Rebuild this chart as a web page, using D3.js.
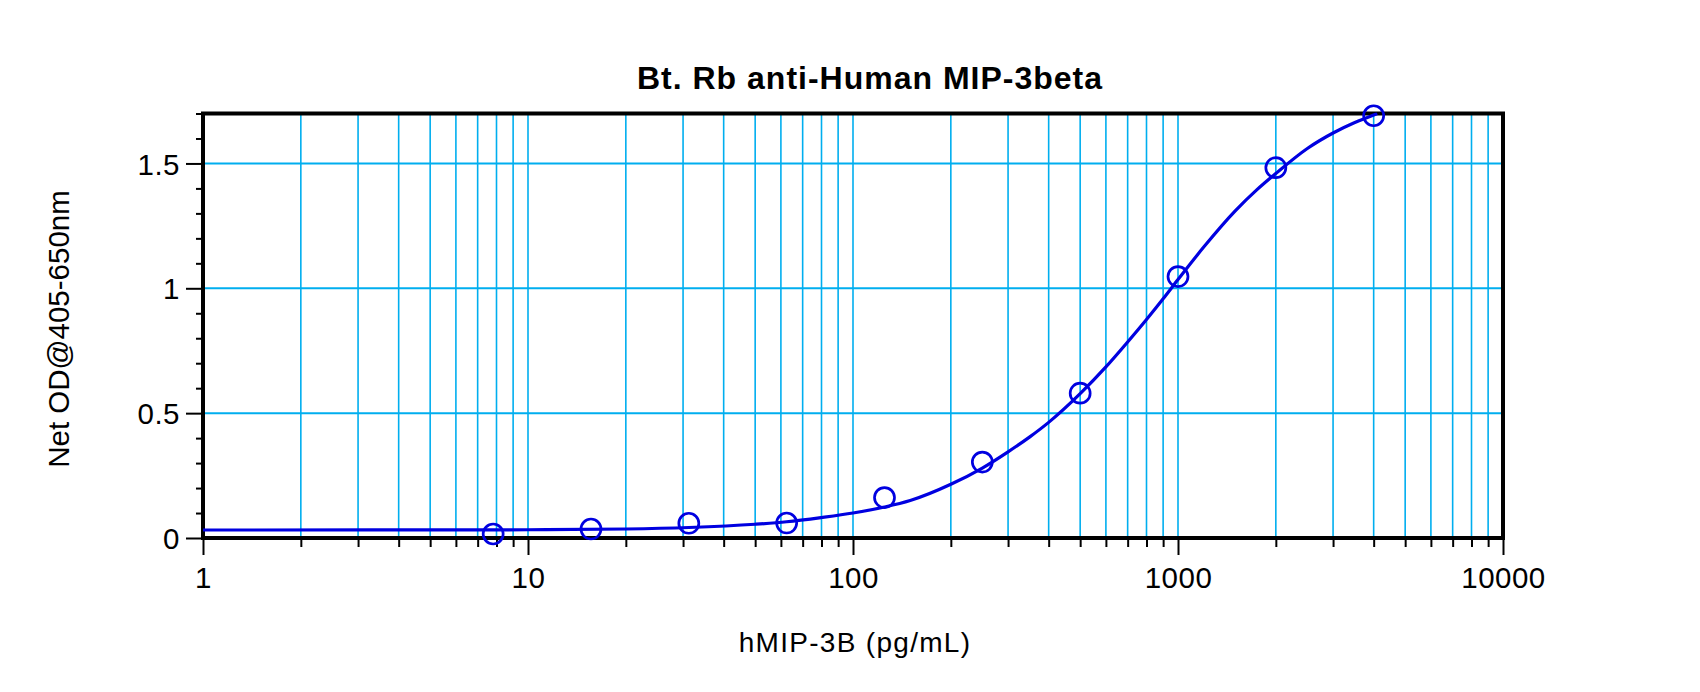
<!DOCTYPE html>
<html><head><meta charset="utf-8">
<script src="https://cdn.jsdelivr.net/npm/d3@7"></script>
<style>
body{margin:0;background:#fff}
svg{display:block}
text{font-family:Arial,"Liberation Sans",sans-serif;fill:#000}
</style>
</head><body>
<svg id="c" width="1700" height="692"></svg>
<script>
// ---- data ----
const title = "Bt. Rb anti-Human MIP-3beta";
const xLabel = "hMIP-3B (pg/mL)";
const yLabel = "Net OD@405-650nm";
const conc = [7.8125, 15.625, 31.25, 62.5, 125, 250, 500, 1000, 2000, 4000];
const od   = [0.016, 0.036, 0.059, 0.060, 0.162, 0.304, 0.580, 1.047, 1.483, 1.691];
// fitted curve
const fitX = [1, 10, 20, 31.25, 50, 62.5, 80, 100, 125, 150, 200, 250, 300, 350, 400, 500, 600, 700, 800, 900, 1000, 1200, 1500, 1750, 2000, 2500, 3000, 3500, 4000, 4100];
const fitY = [0.032, 0.033, 0.036, 0.042, 0.055, 0.065, 0.082, 0.100, 0.124, 0.150, 0.215, 0.280, 0.345, 0.405, 0.463, 0.578, 0.685, 0.785, 0.875, 0.958, 1.035, 1.165, 1.310, 1.395, 1.460, 1.560, 1.622, 1.664, 1.694, 1.700];
const xTicks = [1, 10, 100, 1000, 10000];
const xTickLabels = ["1", "10", "100", "1000", "10000"];
const yTicks = [0, 0.5, 1, 1.5];
const yTickLabels = ["0", "0.5", "1", "1.5"];
const xDomain = [1, 10000];
const yDomain = [0, 1.7];

// ---- layout ----
const L = 203, R = 1503, T = 113.5, B = 538;
const gridColor = "#00aeef";
const blue = "#0000e0";

const svg = d3.select("#c");
const x = d3.scaleLog().domain(xDomain).range([L, R]);
const y = d3.scaleLinear().domain(yDomain).range([B, T]);

const xMinor = x.ticks().filter(v => v > xDomain[0] && v < xDomain[1]);
const yMinor = y.ticks(17);

// gridlines
const g = svg.append("g");
g.selectAll("line.vx").data(xMinor).join("line")
  .attr("x1", d => x(d)).attr("x2", d => x(d))
  .attr("y1", T).attr("y2", B)
  .attr("stroke", gridColor).attr("stroke-width", 1.6);
g.selectAll("line.hy").data(yTicks.filter(v => v > 0)).join("line")
  .attr("x1", L).attr("x2", R)
  .attr("y1", d => y(d)).attr("y2", d => y(d))
  .attr("stroke", gridColor).attr("stroke-width", 2);

// axes (ticks)
const xMinorAxis = svg.append("g").attr("transform", `translate(0,${B})`)
  .call(d3.axisBottom(x).tickValues(xMinor.filter(v => !xTicks.includes(v))).tickSize(9).tickFormat(""));
const xMajorAxis = svg.append("g").attr("transform", `translate(0,${B})`)
  .call(d3.axisBottom(x).tickValues(xTicks).tickSize(17).tickFormat((d, i) => xTickLabels[i]));
const yMinorAxis = svg.append("g").attr("transform", `translate(${L},0)`)
  .call(d3.axisLeft(y).tickValues(yMinor.filter(v => !yTicks.some(t => Math.abs(t - v) < 1e-9))).tickSize(7).tickFormat(""));
const yMajorAxis = svg.append("g").attr("transform", `translate(${L},0)`)
  .call(d3.axisLeft(y).tickValues(yTicks).tickSize(17).tickFormat((d, i) => yTickLabels[i]));

[xMinorAxis, xMajorAxis, yMinorAxis, yMajorAxis].forEach(a => {
  a.select(".domain").remove();
  a.selectAll(".tick line").attr("stroke", "#000").attr("stroke-width", 2);
  a.selectAll("text").attr("font-size", 29.5).attr("fill", "#000")
    .attr("font-family", "Arial, 'Liberation Sans', sans-serif");
});
xMajorAxis.selectAll("text").attr("y", 29).attr("dy", "0.71em").style("letter-spacing", "0.5px");
yMajorAxis.selectAll("text").attr("x", -23).attr("dy", "0.36em").style("letter-spacing", "0.5px");

// frame
svg.append("rect").attr("x", L).attr("y", T).attr("width", R - L).attr("height", B - T)
  .attr("fill", "none").attr("stroke", "#000").attr("stroke-width", 4);

// clip
svg.append("clipPath").attr("id", "clip").append("rect")
  .attr("x", L).attr("y", T - 1).attr("width", R - L).attr("height", B - T + 1);

// fitted curve
const fit = fitX.map((v, i) => [v, fitY[i]]);
svg.append("path").datum(fit)
  .attr("clip-path", "url(#clip)")
  .attr("fill", "none").attr("stroke", blue).attr("stroke-width", 3.2)
  .attr("d", d3.line().x(d => x(d[0])).y(d => y(d[1])).curve(d3.curveMonotoneX));

// points
svg.selectAll("circle.pt").data(conc.map((v, i) => [v, od[i]])).join("circle")
  .attr("cx", d => x(d[0])).attr("cy", d => y(d[1])).attr("r", 10)
  .attr("fill", "none").attr("stroke", blue).attr("stroke-width", 2.7);

// title & labels
svg.append("text").attr("x", 870).attr("y", 88.5).attr("text-anchor", "middle")
  .attr("font-size", 32).attr("font-weight", "bold").style("letter-spacing", "1px").text(title);
svg.append("text").attr("x", 855).attr("y", 652).attr("text-anchor", "middle")
  .attr("font-size", 28).style("letter-spacing", "1.3px").text(xLabel);
svg.append("text").attr("transform", "translate(69,329) rotate(-90)").attr("text-anchor", "middle")
  .attr("font-size", 29.5).text(yLabel);
</script>
</body></html>
